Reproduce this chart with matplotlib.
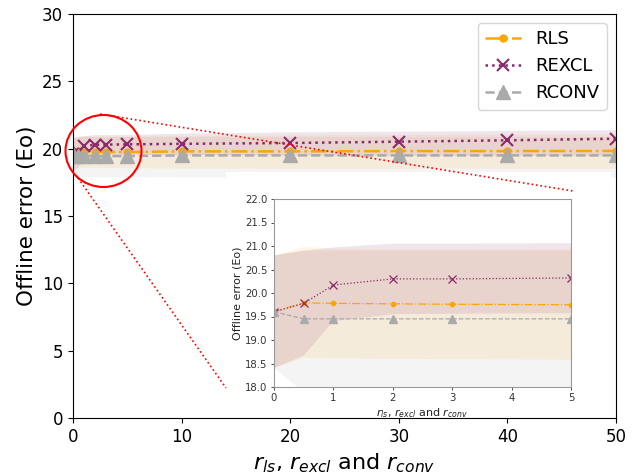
import matplotlib
matplotlib.use('Agg')
import matplotlib.pyplot as plt
from matplotlib.patches import Ellipse, Rectangle
from matplotlib.lines import Line2D
from matplotlib.ticker import FormatStrFormatter

# ---- data ----
radius = [0, 0.5, 1, 2, 3, 5, 10, 20, 30, 40, 50]

rls = [19.60, 19.79, 19.78, 19.77, 19.76, 19.75, 19.80, 19.80, 19.82, 19.82, 19.83]
rls_lo = [18.40, 18.62, 18.61, 18.60, 18.59, 18.58, 18.56, 18.55, 18.55, 18.55, 18.55]
rls_hi = [20.80, 20.98, 20.94, 20.93, 20.93, 20.93, 20.98, 21.02, 21.05, 21.08, 21.10]

rexcl = [19.60, 19.78, 20.17, 20.30, 20.30, 20.32, 20.36, 20.42, 20.52, 20.62, 20.74]
rexcl_lo = [18.40, 18.67, 19.40, 19.55, 19.56, 19.57, 19.55, 19.52, 19.50, 19.50, 19.50]
rexcl_hi = [20.80, 20.90, 20.97, 21.05, 21.05, 21.06, 21.15, 21.25, 21.30, 21.35, 21.40]

rconv = [19.60, 19.45, 19.45, 19.45, 19.45, 19.45, 19.50, 19.50, 19.50, 19.50, 19.50]
rconv_lo = [18.40, 17.90, 17.92, 17.92, 17.92, 17.92, 17.90, 17.90, 17.90, 17.90, 17.90]
rconv_hi = [20.80, 20.90, 20.90, 20.90, 20.90, 20.90, 20.90, 20.90, 20.90, 20.90, 20.90]

labels = ['RLS', 'REXCL', 'RCONV']
xlabel = r'$r_{ls}$, $r_{excl}$ and $r_{conv}$'
ylabel = 'Offline error (Eo)'

C_RLS = '#ffa500'
C_REXCL = '#8b2a6b'
C_RCONV = '#aaaaaa'

W, H = 635, 474
fig = plt.figure(figsize=(W / 100, H / 100), dpi=100)


def fx(p):
    return p / W


def fy(p):
    return 1 - p / H


def draw(ax, big):
    ax.fill_between(radius, rconv_lo, rconv_hi, color=C_RCONV, alpha=0.12, lw=0)
    ax.fill_between(radius, rls_lo, rls_hi, color=C_RLS, alpha=0.10, lw=0)
    ax.fill_between(radius, rexcl_lo, rexcl_hi, color=C_REXCL, alpha=0.12, lw=0)
    if big:
        lw, ms_o, ms_x, ms_t, mew = 1.8, 5, 9, 10, 1.5
    else:
        lw, ms_o, ms_x, ms_t, mew = 0.9, 3, 6, 6, 0.9
    h1, = ax.plot(radius, rls, linestyle='-.', color=C_RLS, marker='o', ms=ms_o, lw=lw, label=labels[0])
    h2, = ax.plot(radius, rexcl, linestyle=':', color=C_REXCL, marker='x', ms=ms_x,
                  mew=mew, lw=lw, label=labels[1])
    h3, = ax.plot(radius, rconv, linestyle='--', color=C_RCONV, marker='^', ms=ms_t, lw=lw, label=labels[2])
    return [h1, h2, h3]


# ---- main axes ----
ax = fig.add_axes([fx(73), fy(418), fx(616) - fx(73), fy(14) - fy(418)])
handles = draw(ax, True)
ax.set_xlim(0, 50)
ax.set_ylim(0, 30)
ax.set_xticks([0, 10, 20, 30, 40, 50])
ax.set_yticks([0, 5, 10, 15, 20, 25, 30])
ax.tick_params(labelsize=12)
ax.set_xlabel(xlabel, fontsize=16)
ax.set_ylabel(ylabel, fontsize=15.5)
ax.legend(handles=handles, loc='upper right', fontsize=13)

# ---- white box behind the inset ----
fig.add_artist(Rectangle((fx(226), fy(416)), fx(611) - fx(226), fy(172) - fy(416),
                         transform=fig.transFigure, fc='white', ec='none', zorder=2))

# ---- inset ----
axi = fig.add_axes([fx(274), fy(387), fx(571) - fx(274), fy(199) - fy(387)], zorder=3)
draw(axi, False)
axi.set_xlim(0, 5)
axi.set_ylim(18, 22)
axi.set_xticks([0, 1, 2, 3, 4, 5])
axi.set_yticks([18.0, 18.5, 19.0, 19.5, 20.0, 20.5, 21.0, 21.5, 22.0])
axi.yaxis.set_major_formatter(FormatStrFormatter('%.1f'))
axi.tick_params(labelsize=7.3, colors='#333333', length=2.5, width=0.6, pad=2)
for s in axi.spines.values():
    s.set_color('#999999')
    s.set_linewidth(0.8)
axi.set_xlabel(xlabel, fontsize=8, color='#222222', labelpad=2)
axi.set_ylabel(ylabel, fontsize=8, color='#222222', labelpad=2)

# ---- zoom marker: circle and dotted connectors ----
fig.add_artist(Ellipse((fx(103.5), fy(151)), fx(76), 72 / H, transform=fig.transFigure,
                       fill=False, ec='red', lw=1.5, zorder=5))
fig.add_artist(Line2D([fx(100), fx(573)], [fy(114), fy(191)], transform=fig.transFigure,
                      color='red', ls=':', lw=1.2, zorder=5))
fig.add_artist(Line2D([fx(78), fx(226)], [fy(178), fy(388)], transform=fig.transFigure,
                      color='red', ls=':', lw=1.2, zorder=5))

fig.savefig('out.png', dpi=100)
